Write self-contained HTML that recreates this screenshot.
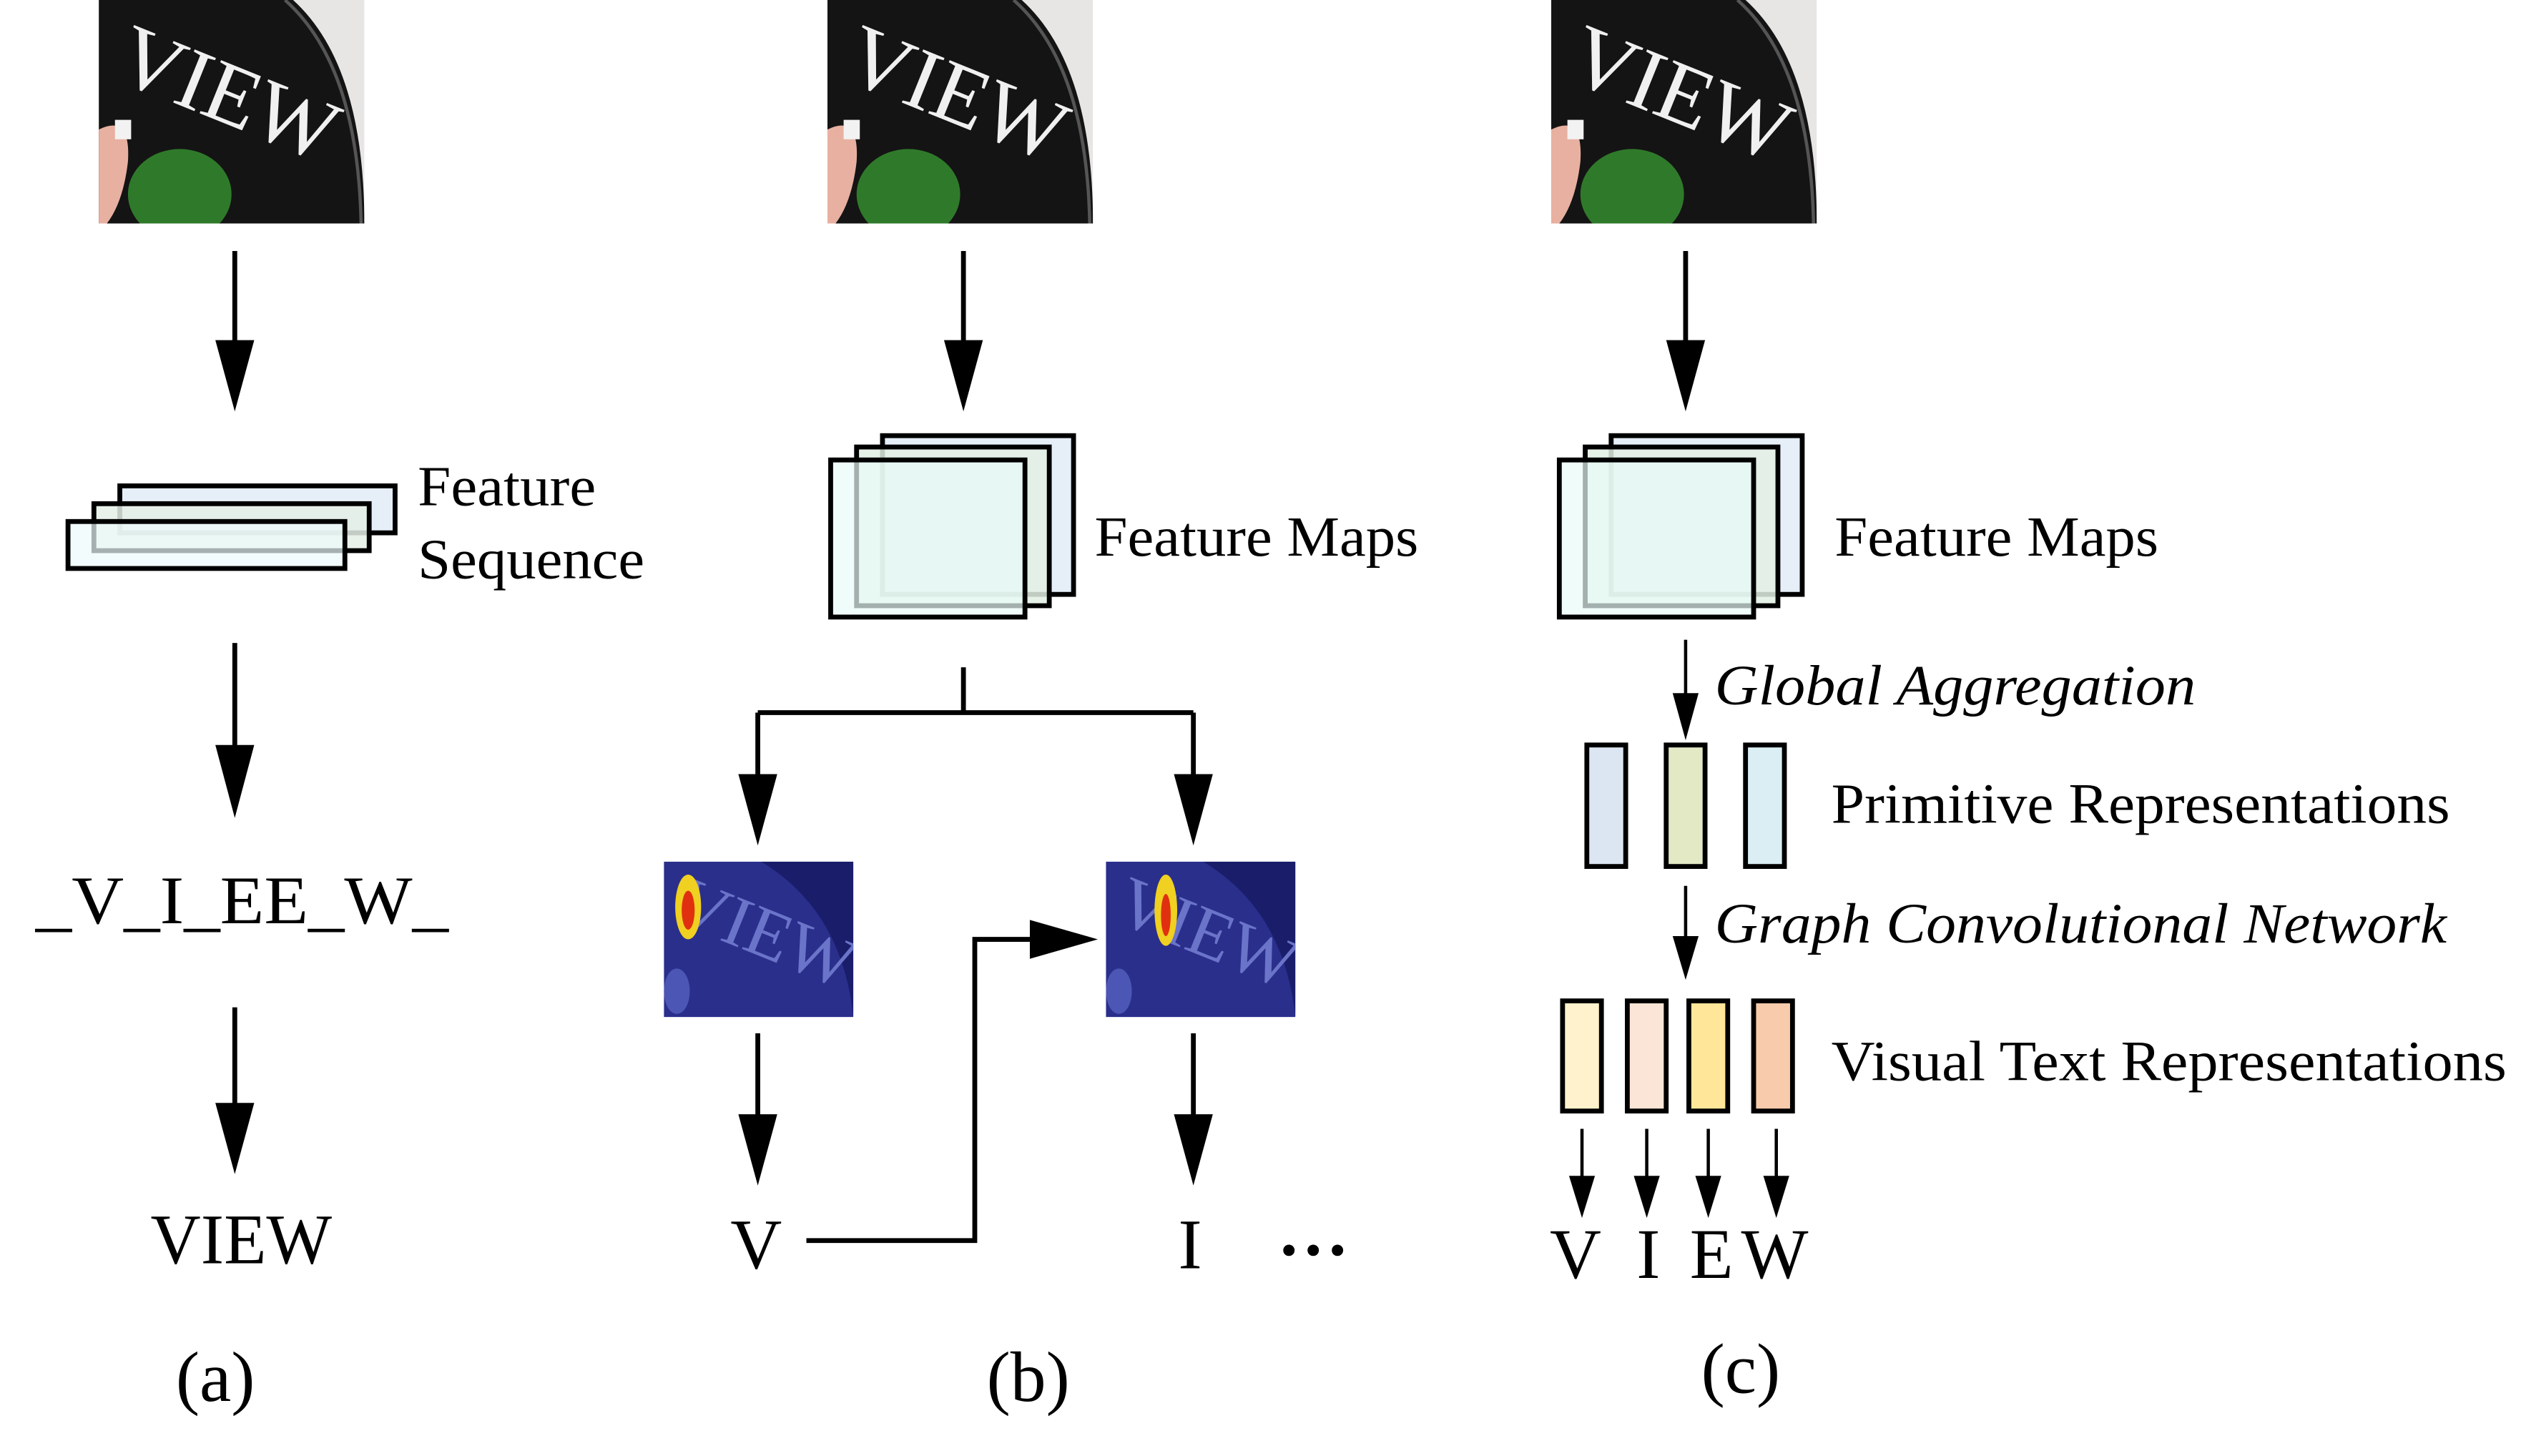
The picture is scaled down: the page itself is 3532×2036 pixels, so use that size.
<!DOCTYPE html>
<html><head><meta charset="utf-8"><style>html,body{margin:0;padding:0;background:#fff}svg{display:block}</style></head>
<body>
<svg width="3532" height="2036" viewBox="0 0 1560 899" preserveAspectRatio="none" xmlns="http://www.w3.org/2000/svg" font-family="Liberation Serif, serif">
<defs>
<clipPath id="pc"><rect x="0" y="0" width="164" height="138"/></clipPath>
<clipPath id="hc"><rect x="0" y="0" width="117" height="96"/></clipPath>
<g id="photo" clip-path="url(#pc)">
<rect x="0" y="0" width="164" height="138" fill="#e8e6e4"/>
<path d="M0,0 L120,0 Q164,40 164,138 L0,138z" fill="#141414"/>
<path d="M115,0 Q160,40 162,138" stroke="#555" stroke-width="2" fill="none"/>
<ellipse cx="50" cy="120" rx="32" ry="28" fill="#2f7a2a"/>
<path d="M0,80 Q20,70 18,100 Q15,125 5,138 L0,138z" fill="#e8b0a0"/>
<rect x="10" y="74" width="10" height="12" fill="#f2f2f2"/>
<text x="0" y="0" font-size="54" fill="#f0f0f0" transform="translate(8,48) rotate(22)">VIEW</text>
</g>
<g id="heat" clip-path="url(#hc)">
<rect x="0" y="0" width="117" height="96" fill="#2a2f8c"/>
<path d="M60,0 Q110,30 117,96 L117,0z" fill="#1a1d6a"/>
<text x="0" y="0" font-size="44" fill="#6a74c8" transform="translate(4,36) rotate(22)">VIEW</text>
<ellipse cx="8" cy="80" rx="8" ry="14" fill="#4c56b4"/>
</g>
</defs>

<g stroke="#000" stroke-width="3" fill="none">
<!-- main arrow shafts -->
<path d="M145,155 V212 M145,397 V462 M145,622 V683 M595,155 V212 M1041,155 V212 M468,638 V690 M737,638 V690 M595,412 V440 M468,440 V480 M737,440 V480 M468,440 H737 M498,766 H602 V580 H640"/>
</g>
<g fill="#000">
<polygon points="133,210 157,210 145,254"/>
<polygon points="133,460 157,460 145,505"/>
<polygon points="133,681 157,681 145,725"/>
<polygon points="583,210 607,210 595,254"/>
<polygon points="1029,210 1053,210 1041,254"/>
<polygon points="456,478 480,478 468,522"/>
<polygon points="725,478 749,478 737,522"/>
<polygon points="456,688 480,688 468,732"/>
<polygon points="725,688 749,688 737,732"/>
<polygon points="636,568 636,592 678,580"/>
</g>

<!-- (a) -->
<use href="#photo" x="61" y="0"/>
<rect x="74" y="300" width="170" height="29" fill="#e6eef8" stroke="#000" stroke-width="3"/>
<rect x="58" y="311" width="170" height="29" fill="#e4efe6" fill-opacity="0.85" stroke="#000" stroke-width="3"/>
<rect x="42" y="322" width="171" height="29" fill="#ecfbfb" fill-opacity="0.7" stroke="#000" stroke-width="3"/>
<text x="258" y="312" font-size="35" textLength="110" lengthAdjust="spacingAndGlyphs">Feature</text>
<text x="258" y="357" font-size="35" textLength="140" lengthAdjust="spacingAndGlyphs">Sequence</text>
<text x="22" y="570" font-size="42" textLength="255" lengthAdjust="spacingAndGlyphs">_V_I_EE_W_</text>
<text x="93" y="780" font-size="44" textLength="112" lengthAdjust="spacingAndGlyphs">VIEW</text>
<text x="133" y="865" font-size="44" text-anchor="middle">(a)</text>

<!-- (b) -->
<use href="#photo" x="511" y="0"/>
<rect x="545" y="269" width="118" height="98" fill="#e6eef8" stroke="#000" stroke-width="3"/>
<rect x="529" y="276" width="119" height="98" fill="#e2efe4" fill-opacity="0.85" stroke="#000" stroke-width="3"/>
<rect x="513" y="284" width="120" height="97" fill="#e8fbf8" fill-opacity="0.7" stroke="#000" stroke-width="3"/>
<text x="676" y="343" font-size="35" textLength="200" lengthAdjust="spacingAndGlyphs">Feature Maps</text>
<use href="#heat" x="410" y="532"/>
<ellipse cx="425" cy="560" rx="8" ry="20" fill="#f0d020"/><ellipse cx="425" cy="562" rx="4" ry="12" fill="#e03010"/>
<use href="#heat" x="683" y="532"/>
<ellipse cx="720" cy="562" rx="7" ry="22" fill="#f0d020"/><ellipse cx="720" cy="565" rx="3" ry="13" fill="#e03010"/>
<text x="467" y="783" font-size="44" text-anchor="middle">V</text>
<text x="735" y="783" font-size="44" text-anchor="middle">I</text>
<circle cx="796" cy="772" r="3.5"/><circle cx="811" cy="772" r="3.5"/><circle cx="826" cy="772" r="3.5"/>
<text x="635" y="865" font-size="44" text-anchor="middle">(b)</text>

<!-- (c) -->
<use href="#photo" x="958" y="0"/>
<rect x="995" y="269" width="118" height="98" fill="#e6eef8" stroke="#000" stroke-width="3"/>
<rect x="979" y="276" width="119" height="98" fill="#e2efe4" fill-opacity="0.85" stroke="#000" stroke-width="3"/>
<rect x="963" y="284" width="120" height="97" fill="#e8fbf8" fill-opacity="0.7" stroke="#000" stroke-width="3"/>
<text x="1133" y="343" font-size="35" textLength="200" lengthAdjust="spacingAndGlyphs">Feature Maps</text>
<g stroke="#000" stroke-width="2">
<line x1="1041" y1="395" x2="1041" y2="430"/>
<line x1="1041" y1="547" x2="1041" y2="580"/>
<line x1="977" y1="697" x2="977" y2="728"/>
<line x1="1017" y1="697" x2="1017" y2="728"/>
<line x1="1055" y1="697" x2="1055" y2="728"/>
<line x1="1097" y1="697" x2="1097" y2="728"/>
</g>
<g fill="#000">
<polygon points="1033,428 1049,428 1041,457"/>
<polygon points="1033,578 1049,578 1041,605"/>
<polygon points="969,726 985,726 977,752"/>
<polygon points="1009,726 1025,726 1017,752"/>
<polygon points="1047,726 1063,726 1055,752"/>
<polygon points="1089,726 1105,726 1097,752"/>
</g>
<text x="1059" y="435" font-size="35" font-style="italic" textLength="297" lengthAdjust="spacingAndGlyphs">Global Aggregation</text>
<rect x="980" y="460" width="24" height="75" fill="#dce6f2" stroke="#000" stroke-width="3"/>
<rect x="1029" y="460" width="24" height="75" fill="#e3e8c5" stroke="#000" stroke-width="3"/>
<rect x="1078" y="460" width="24" height="75" fill="#daeef3" stroke="#000" stroke-width="3"/>
<text x="1131" y="508" font-size="35" textLength="382" lengthAdjust="spacingAndGlyphs">Primitive Representations</text>
<text x="1059" y="582" font-size="35" font-style="italic" textLength="452" lengthAdjust="spacingAndGlyphs">Graph Convolutional Network</text>
<rect x="965" y="618" width="24" height="68" fill="#fff2cc" stroke="#000" stroke-width="3"/>
<rect x="1005" y="618" width="24" height="68" fill="#fbe5d6" stroke="#000" stroke-width="3"/>
<rect x="1043" y="618" width="24" height="68" fill="#ffe699" stroke="#000" stroke-width="3"/>
<rect x="1083" y="618" width="24" height="68" fill="#f8cbad" stroke="#000" stroke-width="3"/>
<text x="1131" y="667" font-size="35" textLength="417" lengthAdjust="spacingAndGlyphs">Visual Text Representations</text>
<text x="973" y="789" font-size="44" text-anchor="middle">V</text>
<text x="1018" y="789" font-size="44" text-anchor="middle">I</text>
<text x="1057" y="789" font-size="44" text-anchor="middle">E</text>
<text x="1096" y="789" font-size="44" text-anchor="middle">W</text>
<text x="1075" y="860" font-size="44" text-anchor="middle">(c)</text>
</svg>
</body></html>
